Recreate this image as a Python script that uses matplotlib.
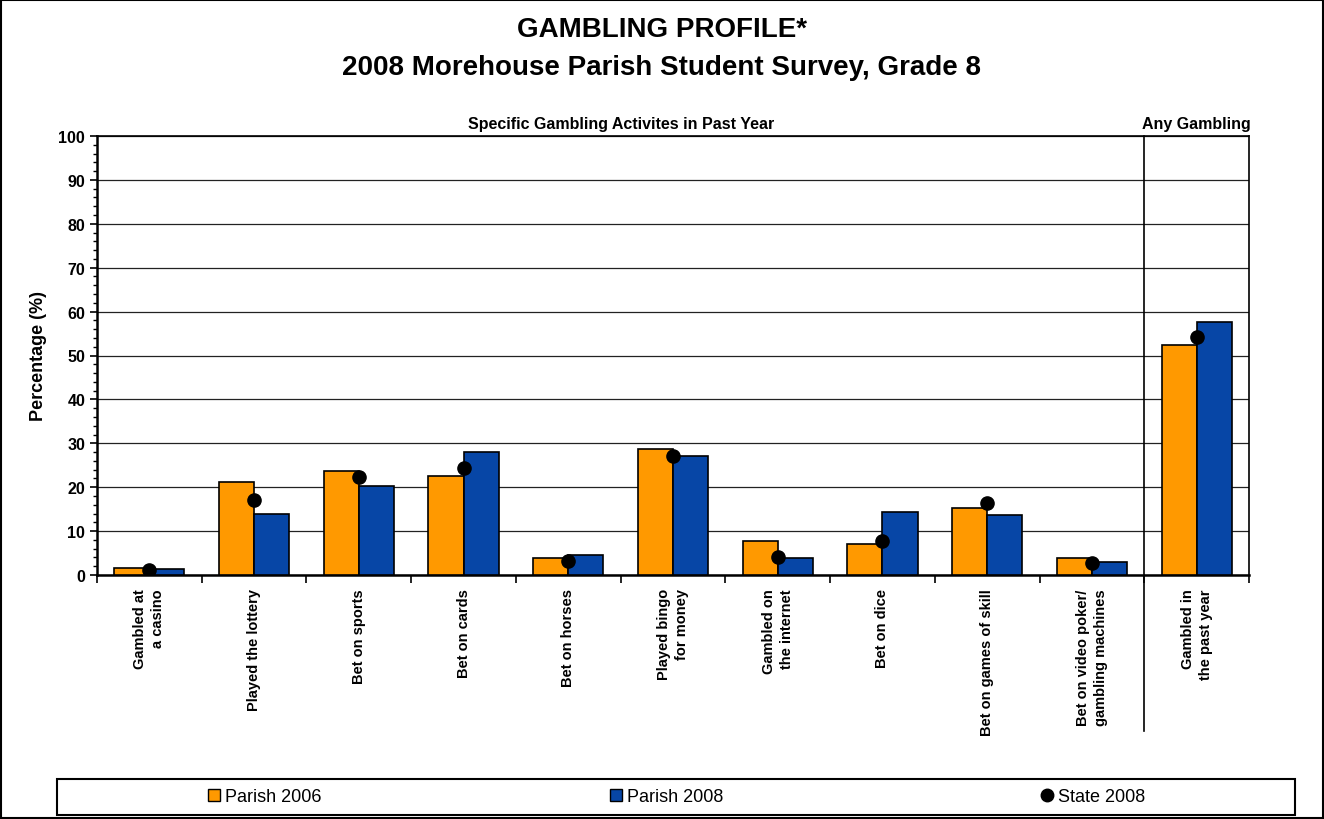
import matplotlib
matplotlib.use("Agg")
import numpy as np
import matplotlib.pyplot as plt
from matplotlib.lines import Line2D
from matplotlib.patches import Rectangle

plt.rcParams["font.family"] = ["Liberation Sans", "DejaVu Sans"]

categories = ["Gambled at\na casino", "Played the lottery", "Bet on sports", "Bet on cards",
              "Bet on horses", "Played bingo\nfor money", "Gambled on\nthe internet",
              "Bet on dice", "Bet on games of skill", "Bet on video poker/\ngambling machines",
              "Gambled in\nthe past year"]
parish_2006 = [1.5, 21.2, 23.7, 22.5, 3.9, 28.7, 7.7, 7.0, 15.2, 3.9, 52.4]
parish_2008 = [1.4, 13.9, 20.2, 28.1, 4.5, 27.0, 3.9, 14.3, 13.6, 2.9, 57.6]
state_2008 = [1.1, 17.0, 22.3, 24.4, 3.3, 27.0, 4.2, 7.7, 16.4, 2.8, 54.2]

orange = "#FF9900"
blue = "#0746A6"

fig = plt.figure(figsize=(13.24, 8.2), dpi=100)
ax = fig.add_axes([97 / 1324, 1 - 576 / 820, (1249 - 97) / 1324, (576 - 137) / 820])

x = np.arange(len(categories))
w = 0.335
ax.bar(x - w / 2, parish_2006, w, color=orange, edgecolor="black", linewidth=1.2, zorder=3)
ax.bar(x + w / 2, parish_2008, w, color=blue, edgecolor="black", linewidth=1.2, zorder=3)
ax.plot(x, state_2008, "o", color="black", markersize=9.5, zorder=4)

ax.set_xlim(-0.5, len(categories) - 0.5)
ax.set_ylim(0, 100)
ax.set_yticks(np.arange(0, 101, 10))
ax.set_yticks(np.arange(0, 101, 2), minor=True)
ax.yaxis.grid(True, color="#222222", linewidth=0.9, zorder=0)
ax.tick_params(axis="y", which="major", length=5, width=1.2, labelsize=11.5)
ax.tick_params(axis="y", which="minor", length=3, width=1)
for lbl in ax.get_yticklabels():
    lbl.set_fontweight("bold")
for s in ax.spines.values():
    s.set_linewidth(1.2)
ax.spines["left"].set_linewidth(1.8)
ax.spines["bottom"].set_linewidth(1.8)

# category boundaries as x ticks, labels drawn as text
ax.set_xticks(np.arange(-0.5, len(categories) - 0.4, 1))
ax.set_xticklabels([])
ax.tick_params(axis="x", length=6, width=1.2)
trans = ax.get_xaxis_transform()
for xi, lab in zip(x, categories):
    ax.text(xi, -0.03, lab, rotation=90, ha="center", va="top", multialignment="right",
            fontsize=10.5, fontweight="bold", linespacing=1.35, transform=trans)

# separator for the "any gambling" group
ax.plot([9.5, 9.5], [1, -0.355], color="black", linewidth=1.2, transform=trans, clip_on=False, zorder=5)
ax.text(4.5, 1.012, "Specific Gambling Activites in Past Year", ha="center", va="bottom",
        fontsize=11.5, fontweight="bold", transform=trans)
ax.text(10, 1.012, "Any Gambling", ha="center", va="bottom", fontsize=11.5, fontweight="bold", transform=trans)

ax.set_ylabel("Percentage (%)", fontsize=13, fontweight="bold", labelpad=8)

fig.text(0.5, 1 - 30 / 820, "GAMBLING PROFILE*", ha="center", va="center", fontsize=20, fontweight="bold")
fig.text(0.5, 1 - 68 / 820, "2008 Morehouse Parish Student Survey, Grade 8", ha="center", va="center",
         fontsize=20, fontweight="bold")

# legend box with three evenly spread entries
fig.patches.append(Rectangle((57 / 1324, 1 - 816 / 820), (1295 - 57) / 1324, 36 / 820,
                             transform=fig.transFigure, fill=False, edgecolor="black", linewidth=1.5))
handles = [Line2D([], [], marker="s", linestyle="none", markerfacecolor=orange, markeredgecolor="black", markersize=8, label="Parish 2006"),
           Line2D([], [], marker="s", linestyle="none", markerfacecolor=blue, markeredgecolor="black", markersize=8, label="Parish 2008"),
           Line2D([], [], marker="o", linestyle="none", color="black", markersize=9, label="State 2008")]
for h, cx in zip(handles, [263, 665, 1092]):
    fig.legend(handles=[h], loc="center", bbox_to_anchor=(cx / 1324, 1 - 798 / 820), frameon=False,
               fontsize=13, handletextpad=0.1, handlelength=1.0)

# outer border
fig.patches.append(Rectangle((0.001, 0.001), 0.998, 0.998, transform=fig.transFigure, fill=False,
                             edgecolor="black", linewidth=1.5))

fig.savefig("out.png", dpi=100)
